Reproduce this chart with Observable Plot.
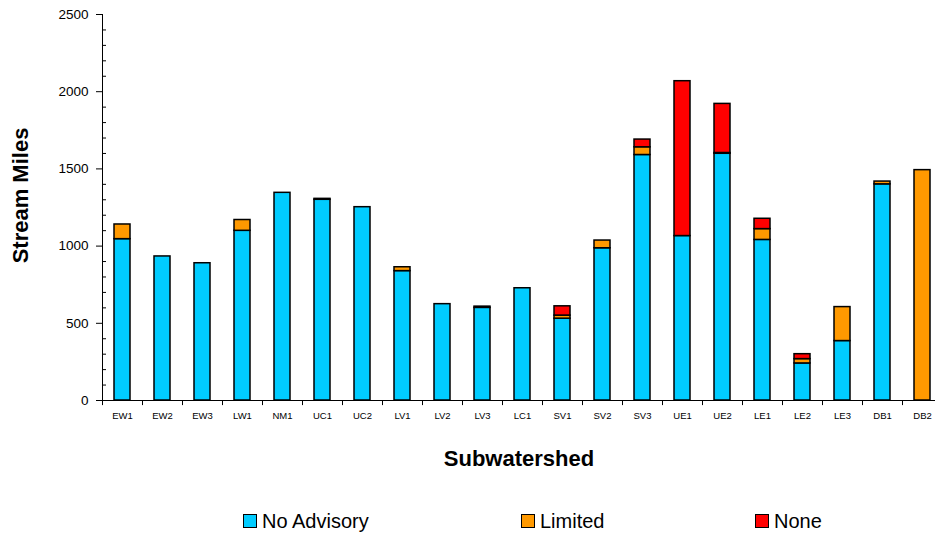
<!DOCTYPE html>
<html>
<head>
<meta charset="utf-8">
<script src="https://cdn.jsdelivr.net/npm/d3@7"></script>
<script src="https://cdn.jsdelivr.net/npm/@observablehq/plot@0.6"></script>
<style>
  html, body { margin: 0; padding: 0; background: white; }
  #wrap { width: 935px; height: 535px; position: relative; overflow: hidden; font-family: "Liberation Sans", Arial, sans-serif; }
  #legend { position: relative; width: 935px; height: 55px; }
  .item { position: absolute; top: 31px; height: 20px; display: flex; align-items: center; font-size: 20px; color: black; white-space: nowrap; }
  .sw { width: 12px; height: 12px; border: 1px solid #000; margin-right: 5px; }
</style>
</head>
<body>
<div id="wrap">
  <div id="chart"></div>
  <div id="legend"></div>
</div>
<script>
const categories = ["EW1","EW2","EW3","LW1","NM1","UC1","UC2","LV1","LV2","LV3","LC1","SV1","SV2","SV3","UE1","UE2","LE1","LE2","LE3","DB1","DB2"];
const seriesNames = ["No Advisory","Limited","None"];
const seriesColors = ["#00CCFF","#FF9900","#FF0000"];
const noAdvisory = [1045, 933, 889, 1099, 1345, 1300, 1252, 838, 624, 600, 727, 530, 986, 1590, 1065, 1598, 1040, 240, 385, 1400, 0];
const limited    = [95, 0, 0, 70, 0, 6, 0, 25, 0, 0, 0, 20, 50, 50, 0, 5, 70, 28, 220, 18, 1492];
const none       = [0, 0, 0, 0, 0, 0, 0, 0, 0, 8, 0, 60, 0, 50, 1003, 318, 67, 32, 0, 0, 0];
const yMajorTicks = [0, 500, 1000, 1500, 2000, 2500];
const yMinorTicks = d3.range(0, 2501, 100).filter(v => v % 500 !== 0);
const xTitle = "Subwatershed";
const yTitle = "Stream Miles";

const seriesValues = [noAdvisory, limited, none];
const rows = [];
categories.forEach((c, i) => {
  seriesNames.forEach((s, k) => {
    const v = seriesValues[k][i];
    if (v > 0) rows.push({cat: c, series: s, value: v});
  });
});

const W = 935, H = 480, ML = 102, MT = 14, MB = 80;
const step = 40;
const chart = Plot.plot({
  width: W,
  height: H,
  marginLeft: ML,
  marginRight: 0,
  marginTop: MT,
  marginBottom: MB,
  style: {fontFamily: "'Liberation Sans', Arial, sans-serif", fontSize: "13.5px", color: "black", background: "white", overflow: "visible"},
  x: {domain: categories, range: [ML, ML + step * categories.length], paddingInner: 0.6, paddingOuter: 0.3, label: null},
  y: {domain: [0, 2500], label: null},
  color: {domain: seriesNames, range: seriesColors},
  marks: [
    Plot.barY(rows, {x: "cat", y: "value", z: "series", fill: "series", stroke: "black", strokeWidth: 1.5}),
    Plot.ruleY([0], {stroke: "black", strokeWidth: 1}),
    Plot.ruleX([categories[0]], {x: d => d, dx: -step / 2, y1: 0, y2: 2500, stroke: "black", strokeWidth: 1}),
    Plot.ruleX(categories, {x: d => d, dx: -step / 2, y1: 0, y2: -33, stroke: "black", strokeWidth: 1}),
    Plot.tickY(yMinorTicks, {y: d => d, insetRight: (W - ML) - 4, stroke: "black", strokeWidth: 1}),
    Plot.axisY({ticks: yMajorTicks, tickSize: 6, tickPadding: 8, fontSize: 13.5, label: null, tickFormat: d => String(d)}),
    Plot.axisX({tickSize: 0, tickPadding: 12, fontSize: 9.5, label: null}),
    Plot.text([xTitle], {frameAnchor: "bottom", dy: 58, textAnchor: "middle", lineAnchor: "middle", fontSize: 22, fontWeight: "bold"}),
    Plot.text([yTitle], {frameAnchor: "left", rotate: -90, dx: -82, dy: -12, textAnchor: "middle", lineAnchor: "middle", fontSize: 22, fontWeight: "bold"})
  ]
});
document.getElementById("chart").appendChild(chart);

const legendPos = [243, 521, 755];
const legend = document.getElementById("legend");
seriesNames.forEach((s, k) => {
  const item = document.createElement("div");
  item.className = "item";
  item.style.left = legendPos[k] + "px";
  const sw = document.createElement("div");
  sw.className = "sw";
  sw.style.background = seriesColors[k];
  const label = document.createElement("span");
  label.textContent = s;
  item.appendChild(sw);
  item.appendChild(label);
  legend.appendChild(item);
});
</script>
</body>
</html>
